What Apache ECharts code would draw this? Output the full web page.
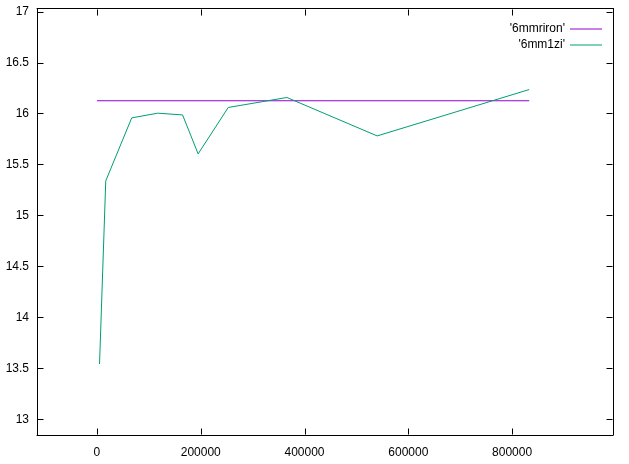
<!DOCTYPE html>
<html>
<head>
<meta charset="utf-8">
<script src="https://cdn.jsdelivr.net/npm/echarts@6/dist/echarts.min.js"></script>
<style>html,body{margin:0;padding:0;background:#fff}#c{width:629px;height:464px}</style>
</head>
<body>
<div id="c"></div>
<script>
const seriesNames = ["'6mmriron'", "'6mm1zi'"];
const rironX = [0, 833000];
const rironY = [16.125, 16.125];
const zX = [5000, 17000, 67000, 117000, 165000, 195000, 253000, 366000, 540000, 833000];
const zY = [13.542, 15.339, 15.957, 16.003, 15.986, 15.604, 16.059, 16.157, 15.78, 16.235];
const xTicks = [0, 200000, 400000, 600000, 800000];
const yTicks = [13, 13.5, 14, 14.5, 15, 15.5, 16, 16.5, 17];
const xRange = [-115500, 994400];
const yRange = [12.846, 17.03];

(function () {
  const font = 'Liberation Sans';
  function axis(pos, range, ticks, showLabels, margin) {
    return {
      type: 'value', position: pos, min: range[0], max: range[1],
      axisLine: {show: true, onZero: false, lineStyle: {color: '#000', width: 1}},
      axisTick: {show: false},
      axisLabel: {show: showLabels, customValues: ticks, fontFamily: font, fontSize: 12, color: '#000', margin: margin, formatter: v => String(v)},
      splitLine: {show: false}
    };
  }
  const chart = echarts.init(document.getElementById('c'), null, {renderer: 'canvas'});
  chart.setOption({
    animation: false,
    backgroundColor: '#fff',
    grid: {left: 37, right: 16, top: 8.5, bottom: 29, containLabel: false},
    legend: {
      orient: 'vertical', right: 27, top: 23, padding: 0, align: 'right', itemWidth: 32, itemHeight: 14, itemGap: 4,
      textStyle: {fontFamily: font, fontSize: 12, color: '#000'},
      data: seriesNames.map(n => ({name: n, icon: 'path://M0,0 L32,0 L32,1 L0,1 Z'})),
    },
    xAxis: [axis('bottom', xRange, xTicks, true, 12), axis('top', xRange, xTicks, false, 8)],
    yAxis: [axis('left', yRange, yTicks, true, 8), axis('right', yRange, yTicks, false, 8)],
    series: [
      {name: seriesNames[0], type: 'line', showSymbol: false, symbol: 'none', color: '#9400d3',
        lineStyle: {width: 1, color: '#9400d3'}, data: rironX.map((x, i) => [x, rironY[i]])},
      {name: seriesNames[1], type: 'line', showSymbol: false, symbol: 'none', color: '#009e73',
        lineStyle: {width: 1, color: '#009e73'}, data: zX.map((x, i) => [x, zY[i]])}
    ]
  });

  // Mirrored inward tick marks (gnuplot style), placed through the chart's own axis scales
  try {
    const TL = 6;
    const px = v => chart.convertToPixel({xAxisIndex: 0}, v);
    const py = v => chart.convertToPixel({yAxisIndex: 0}, v);
    const edgeL = Math.round(px(xRange[0])) + 0.5, edgeR = Math.round(px(xRange[1])) - 0.5;
    const edgeT = Math.round(py(yRange[1])) + 0.5, edgeB = Math.round(py(yRange[0])) - 0.5;
    const tickStyle = {stroke: '#000', lineWidth: 1};
    const graphics = [];
    xTicks.forEach(v => {
      const x = Math.round(px(v)) + 0.5;
      graphics.push({type: 'line', silent: true, z: 50, shape: {x1: x, y1: edgeB, x2: x, y2: edgeB - TL}, style: tickStyle});
      graphics.push({type: 'line', silent: true, z: 50, shape: {x1: x, y1: edgeT, x2: x, y2: edgeT + TL}, style: tickStyle});
    });
    yTicks.forEach(v => {
      const y = Math.round(py(v)) + 0.5;
      graphics.push({type: 'line', silent: true, z: 50, shape: {x1: edgeL, y1: y, x2: edgeL + TL, y2: y}, style: tickStyle});
      graphics.push({type: 'line', silent: true, z: 50, shape: {x1: edgeR, y1: y, x2: edgeR - TL, y2: y}, style: tickStyle});
    });
    chart.setOption({graphic: graphics});
  } catch (e) { console.error(e); }
})();
</script>
</body>
</html>
